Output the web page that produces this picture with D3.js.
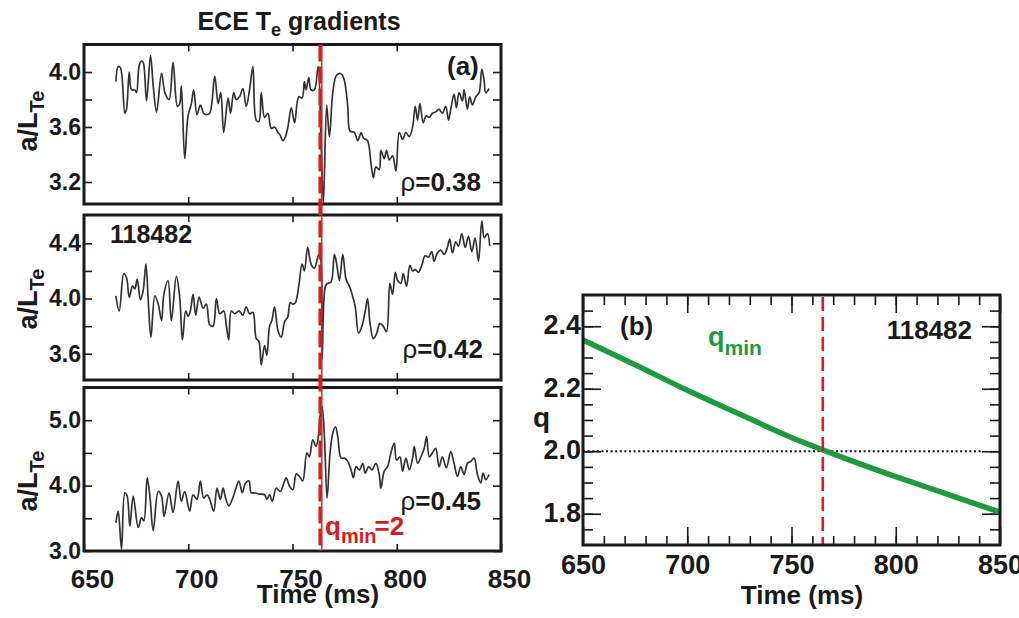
<!DOCTYPE html>
<html>
<head>
<meta charset="utf-8">
<script src="https://cdn.jsdelivr.net/npm/d3@7"></script>
<style>
  body { margin: 0; background: #fff; }
  svg text { font-family: 'Liberation Sans', Arial, sans-serif; font-weight: bold; fill: #1a1a1a; }
  .frame { fill: none; stroke: #1a1a1a; stroke-width: 3; }
  .axis path { display: none; }
  .axis line { stroke: #1a1a1a; stroke-width: 1.6; }
  .trace { fill: none; stroke: #333; stroke-width: 1.7; stroke-linejoin: round; }
</style>
</head>
<body>
<svg id="chart" width="1019" height="618"></svg>
<script>
// ECE a/L_Te traces, [time (ms), a/L_Te]
var rho038 = [[665.3,3.93],[666.4,4.04],[667.5,4.03],[669.6,3.70],[670.4,3.73],[671.7,4.00],[672.8,3.87],[674.4,3.87],[675.2,3.85],[676.5,4.05],[677.6,4.08],[678.4,4.07],[680.0,3.79],[681.9,4.12],[683.2,3.90],[684.8,3.71],[687.2,3.99],[688.8,3.85],[690.8,3.80],[692.7,4.07],[694.8,3.75],[695.9,3.77],[696.7,3.90],[698.3,3.37],[699.9,3.68],[701.5,3.77],[702.6,3.87],[704.2,3.69],[705.8,3.76],[707.4,3.70],[708.7,3.69],[710.3,3.70],[712.7,3.97],[714.3,3.77],[715.6,3.85],[717.0,3.56],[719.1,3.81],[720.3,3.70],[721.8,3.85],[723.0,3.80],[724.6,3.82],[726.2,3.88],[727.8,3.75],[729.4,3.87],[731.0,4.04],[732.6,3.65],[733.9,3.64],[735.0,3.85],[736.6,3.67],[738.2,3.70],[739.8,3.59],[741.4,3.60],[743.0,3.56],[744.1,3.54],[745.4,3.50],[746.6,3.53],[747.8,3.60],[749.4,3.74],[751.0,3.63],[753.0,3.82],[754.6,3.81],[755.7,3.93],[756.5,3.87],[757.8,3.96],[758.9,3.87],[760.5,3.87],[762.3,4.04],[763.7,3.48],[764.8,3.05],[766.4,3.76],[767.7,3.53],[769.3,3.85],[770.9,3.97],[772.5,3.99],[773.8,3.98],[774.9,3.94],[776.5,3.75],[777.6,3.57],[779.7,3.56],[781.3,3.50],[782.9,3.56],[784.0,3.52],[786.0,3.50],[787.6,3.34],[788.8,3.23],[790.0,3.31],[791.6,3.29],[792.4,3.43],[794.0,3.37],[795.1,3.43],[796.4,3.36],[798.0,3.39],[799.6,3.28],[801.2,3.56],[802.8,3.51],[804.4,3.56],[806.0,3.53],[807.6,3.60],[808.9,3.75],[810.0,3.65],[811.1,3.77],[812.7,3.63],[814.0,3.68],[815.6,3.67],[817.1,3.70],[818.7,3.71],[820.3,3.73],[821.9,3.70],[823.5,3.75],[824.8,3.65],[825.9,3.73],[827.5,3.84],[828.6,3.74],[829.9,3.85],[831.5,3.79],[832.3,3.87],[833.9,3.73],[835.0,3.82],[836.3,3.76],[837.9,3.82],[839.5,3.85],[840.8,4.02],[841.9,3.94],[842.7,3.85],[844.3,3.88]];

var rho042 = [[665.3,4.02],[666.9,3.91],[669.1,4.18],[670.4,4.15],[671.7,4.01],[673.3,4.09],[674.4,4.07],[675.5,4.14],[677.1,3.99],[678.4,4.06],[679.7,4.25],[680.8,3.99],[682.1,3.72],[684.0,4.02],[685.6,3.96],[687.2,3.84],[688.3,4.03],[690.3,4.13],[691.9,3.84],[694.3,4.16],[695.9,4.01],[697.2,3.70],[698.8,3.91],[699.9,3.87],[701.0,3.91],[702.3,4.03],[703.6,3.88],[705.2,4.01],[707.1,3.93],[708.7,3.96],[710.3,3.81],[711.9,3.80],[713.5,4.00],[715.1,3.89],[717.0,3.91],[718.3,3.80],[719.4,3.70],[720.7,3.91],[722.3,3.89],[724.3,3.91],[726.2,3.88],[727.8,3.94],[729.4,3.89],[731.0,3.90],[732.6,3.71],[733.9,3.69],[735.0,3.52],[736.6,3.66],[737.7,3.59],[739.0,3.80],[740.1,3.84],[741.4,3.94],[743.0,3.77],[744.6,3.72],[746.2,3.83],[747.8,3.87],[748.9,3.97],[750.2,3.96],[751.4,3.97],[753.0,4.09],[754.6,4.25],[755.7,4.20],[757.3,4.37],[758.9,4.25],[760.5,4.22],[762.6,4.32],[763.4,4.30],[764.2,3.56],[765.8,4.09],[766.9,4.11],[768.5,4.12],[770.1,4.32],[771.2,4.25],[772.5,4.13],[774.1,4.32],[775.7,4.14],[777.3,4.09],[778.6,4.03],[780.1,3.94],[781.7,3.75],[783.3,3.80],[784.9,3.91],[786.0,4.00],[787.2,3.82],[788.8,3.71],[790.4,3.75],[791.9,3.82],[793.5,3.80],[795.1,3.76],[796.7,4.11],[798.0,4.03],[799.3,4.19],[800.4,4.13],[802.0,4.11],[803.1,4.18],[804.7,4.09],[806.3,4.24],[807.6,4.20],[808.9,4.21],[810.4,4.19],[812.0,4.24],[813.6,4.31],[815.2,4.30],[816.8,4.34],[817.9,4.27],[819.5,4.33],[821.1,4.35],[822.7,4.32],[824.3,4.37],[825.4,4.43],[826.7,4.33],[828.3,4.41],[829.6,4.38],[831.2,4.47],[832.8,4.37],[834.4,4.45],[836.0,4.34],[837.6,4.44],[839.2,4.27],[840.8,4.56],[842.0,4.44],[843.5,4.47],[844.6,4.38]];

var rho045 = [[665.3,3.43],[666.4,3.61],[668.0,3.03],[669.6,3.89],[670.7,3.84],[672.0,3.38],[673.6,3.84],[676.0,3.36],[677.6,3.51],[678.7,3.46],[680.3,4.12],[681.6,3.84],[683.2,3.31],[685.6,3.91],[687.2,3.84],[688.4,3.53],[690.8,3.89],[692.7,3.59],[695.1,4.07],[696.7,3.76],[698.3,3.91],[700.7,3.61],[702.3,3.86],[704.2,3.79],[705.8,4.07],[707.4,3.81],[709.0,3.86],[710.3,3.79],[712.2,3.61],[713.8,3.96],[715.4,3.79],[716.7,3.96],[717.9,3.81],[719.5,3.69],[721.1,3.79],[722.7,3.94],[724.3,4.07],[725.9,3.89],[727.5,4.04],[729.1,4.07],[730.2,3.89],[731.8,3.89],[734.2,3.87],[736.6,3.86],[737.7,3.79],[739.0,3.86],[740.3,3.76],[742.2,3.96],[744.1,3.91],[746.2,4.07],[747.0,4.12],[748.6,3.99],[750.2,3.94],[751.8,4.18],[753.3,4.14],[754.9,4.07],[756.9,4.50],[758.1,4.44],[759.7,4.70],[761.3,4.60],[762.6,4.80],[763.2,5.05],[764.2,5.20],[765.3,4.75],[766.6,3.81],[768.0,4.50],[769.3,4.80],[770.6,4.90],[771.7,4.75],[773.3,4.42],[774.9,4.42],[776.5,4.37],[778.1,4.24],[779.2,4.12],[780.5,4.29],[782.1,4.24],[783.7,4.34],[784.9,4.19],[786.5,4.29],[788.1,4.24],[790.0,4.34],[791.6,4.17],[792.4,3.96],[794.0,4.22],[795.6,4.29],[797.2,4.50],[798.8,4.65],[799.9,4.39],[801.5,4.44],[802.8,4.22],[804.4,4.42],[806.0,4.24],[807.6,4.42],[808.4,4.60],[810.0,4.34],[811.6,4.44],[813.2,4.57],[814.3,4.75],[815.6,4.44],[817.1,4.50],[818.7,4.57],[820.3,4.29],[821.9,4.44],[823.8,4.27],[825.9,4.52],[827.5,4.34],[829.1,4.14],[830.7,4.29],[832.3,4.17],[833.9,4.34],[835.5,4.37],[837.1,4.42],[838.7,4.17],[840.3,4.04],[841.4,4.19],[842.7,4.09],[844.3,4.17]];

// q_min evolution
var qTime = [650, 675, 700, 725, 750, 775, 800, 825, 850];
var qMin  = [2.356, 2.277, 2.195, 2.119, 2.044, 1.979, 1.919, 1.862, 1.805];

var tQmin2Left = 763.5;   // q_min = 2 crossing marked on (a)
var tQmin2Right = 765;    // same crossing on (b)

// tick values / labels
var timeTicks = [650, 700, 750, 800, 850];
var innerTimeTicks = [700, 750, 800];
var yTicksA = [3.2, 3.4, 3.6, 3.8, 4.0], yLabelsA = [3.2, 3.6, 4.0];
var yTicksB = [3.6, 3.8, 4.0, 4.2, 4.4], yLabelsB = [3.6, 4.0, 4.4];
var yTicksC = [3.0, 3.5, 4.0, 4.5, 5.0], yLabelsC = [3.0, 4.0, 5.0];
var qLabels = [1.8, 2.0, 2.2, 2.4];

var svg = d3.select('#chart');
var ink = '#1a1a1a', red = '#d51d22', green = '#1f9a3d';

// ---------- panel (a): three stacked traces ----------
var xL = d3.scaleLinear().domain([650, 850]).range([84, 501]);

var panels = [
  { data: rho038, top: 44.5, bottom: 204, domain: [3.04, 4.2], ticks: yTicksA, labels: yLabelsA, labelY: 121 },
  { data: rho042, top: 215, bottom: 380, domain: [3.41, 4.605], ticks: yTicksB, labels: yLabelsB, labelY: 299 },
  { data: rho045, top: 387.5, bottom: 551, domain: [3.0, 5.5], ticks: yTicksC, labels: yLabelsC, labelY: 481 }
];

function fmtIf(list) {
  return function(d) {
    return list.some(function(v) { return Math.abs(v - d) < 1e-6; }) ? d.toFixed(1) : '';
  };
}

panels.forEach(function(p, i) {
  var y = d3.scaleLinear().domain(p.domain).range([p.bottom, p.top]);
  var g = svg.append('g');

  g.append('path')
    .datum(p.data)
    .attr('class', 'trace')
    .attr('d', d3.line().curve(d3.curveCatmullRom.alpha(0.5))
      .x(function(d) { return xL(d[0]); }).y(function(d) { return y(d[1]); }));

  // left / right ticks (inward)
  g.append('g').attr('class', 'axis')
    .attr('transform', 'translate(' + xL(650) + ',0)')
    .call(d3.axisLeft(y).tickValues(p.ticks).tickSize(-8).tickPadding(3).tickFormat(fmtIf(p.labels)))
    .selectAll('text').style('font-size', '23px').style('fill', ink);
  g.append('g').attr('class', 'axis')
    .attr('transform', 'translate(' + xL(850) + ',0)')
    .call(d3.axisRight(y).tickValues(p.ticks).tickSize(-8).tickFormat(''));

  // top / bottom ticks
  g.append('g').attr('class', 'axis')
    .attr('transform', 'translate(0,' + p.top + ')')
    .call(d3.axisTop(xL).tickValues(innerTimeTicks).tickSize(-7).tickFormat(''));
  var last = i === panels.length - 1;
  var bx = g.append('g').attr('class', 'axis')
    .attr('transform', 'translate(0,' + p.bottom + ')')
    .call(d3.axisBottom(xL).tickValues(last ? timeTicks : innerTimeTicks).tickSize(-7)
      .tickPadding(19).tickFormat(last ? d3.format('d') : ''));
  bx.selectAll('text').style('font-size', '26px').style('fill', ink).attr('dx', 8);

  g.append('rect').attr('class', 'frame')
    .attr('x', xL(650)).attr('y', p.top)
    .attr('width', xL(850) - xL(650)).attr('height', p.bottom - p.top);

  // y label a/L_Te
  var lab = g.append('text')
    .attr('transform', 'translate(37,' + p.labelY + ') rotate(-90)')
    .attr('text-anchor', 'middle')
    .style('font-size', '27px');
  lab.append('tspan').text('a/L');
  lab.append('tspan').attr('dy', 7).style('font-size', '20px').text('Te');
});

// red dashed marker through all three traces
var xm = xL(tQmin2Left);
svg.append('line')
  .attr('x1', xm + 1.2).attr('x2', xm + 1.2).attr('y1', 44.5).attr('y2', 551)
  .attr('stroke', red).attr('stroke-width', 1.4);
svg.append('line')
  .attr('x1', xm - 0.6).attr('x2', xm - 0.6).attr('y1', 44.5).attr('y2', 551)
  .attr('stroke', red).attr('stroke-width', 3.2).attr('stroke-dasharray', '17,5');

// panel (a) annotations
var title = svg.append('text').attr('x', 299).attr('y', 30).attr('text-anchor', 'middle').style('font-size', '25px');
title.append('tspan').text('ECE T');
title.append('tspan').attr('dy', 6).style('font-size', '18px').text('e');
title.append('tspan').attr('dy', -6).text(' gradients');

svg.append('text').attr('x', 447).attr('y', 75).style('font-size', '26px').text('(a)');
svg.append('text').attr('x', 110).attr('y', 243).style('font-size', '25px').text('118482');

function rhoLabel(x, y, s) {
  var t = svg.append('text').attr('x', x).attr('y', y).attr('text-anchor', 'end').style('font-size', '26px');
  t.append('tspan').style('font-weight', 'normal').text('\u03c1');
  t.append('tspan').text('=' + s);
}
rhoLabel(481, 191, '0.38');
rhoLabel(483, 358, '0.42');
rhoLabel(481, 510, '0.45');

var qm = svg.append('text').attr('x', 325).attr('y', 535).style('font-size', '26px').style('fill', red);
qm.append('tspan').text('q');
qm.append('tspan').attr('dy', 8).style('font-size', '20px').text('min');
qm.append('tspan').attr('dy', -8).attr('dx', -2).text('=2');

svg.append('text').attr('x', 318).attr('y', 603).attr('text-anchor', 'middle').style('font-size', '26px').text('Time (ms)');

// ---------- panel (b): q_min ----------
var xR = d3.scaleLinear().domain([650, 850]).range([583, 1000]);
var yR = d3.scaleLinear().domain([1.7, 2.5]).range([545, 295]);
var gR = svg.append('g');

gR.append('g').attr('class', 'axis').attr('transform', 'translate(583,0)')
  .call(d3.axisLeft(yR).tickValues(d3.range(1.75, 2.49, 0.05)).tickSize(-10).tickFormat(''));
gR.append('g').attr('class', 'axis').attr('transform', 'translate(583,0)')
  .call(d3.axisLeft(yR).tickValues(qLabels).tickSize(-18).tickPadding(2).tickFormat(d3.format('.1f')))
  .selectAll('text').style('font-size', '27px').style('fill', ink).attr('dy', '0.28em');
gR.append('g').attr('class', 'axis').attr('transform', 'translate(1000,0)')
  .call(d3.axisRight(yR).tickValues(d3.range(1.75, 2.49, 0.05)).tickSize(-10).tickFormat(''));
gR.append('g').attr('class', 'axis').attr('transform', 'translate(1000,0)')
  .call(d3.axisRight(yR).tickValues(qLabels).tickSize(-18).tickFormat(''));

gR.append('g').attr('class', 'axis').attr('transform', 'translate(0,545)')
  .call(d3.axisBottom(xR).tickValues(d3.range(660, 850, 10)).tickSize(-9).tickFormat(''));
gR.append('g').attr('class', 'axis').attr('transform', 'translate(0,545)')
  .call(d3.axisBottom(xR).tickValues(timeTicks).tickSize(-18).tickPadding(10).tickFormat(d3.format('d')))
  .selectAll('text').style('font-size', '27px').style('fill', ink);
gR.append('g').attr('class', 'axis').attr('transform', 'translate(0,295)')
  .call(d3.axisTop(xR).tickValues(d3.range(660, 850, 10)).tickSize(-10).tickFormat(''));
gR.append('g').attr('class', 'axis').attr('transform', 'translate(0,295)')
  .call(d3.axisTop(xR).tickValues(timeTicks).tickSize(-18).tickFormat(''));

// q = 2 reference
gR.append('line')
  .attr('x1', xR(650)).attr('x2', xR(841)).attr('y1', yR(2.0)).attr('y2', yR(2.0))
  .attr('stroke', '#111').attr('stroke-width', 2).attr('stroke-dasharray', '2,2.6');

gR.append('path')
  .datum(qTime.map(function(t, i) { return [t, qMin[i]]; }))
  .attr('fill', 'none').attr('stroke', green).attr('stroke-width', 5.5)
  .attr('d', d3.line().curve(d3.curveMonotoneX).x(function(d) { return xR(d[0]); }).y(function(d) { return yR(d[1]); }));

gR.append('line')
  .attr('x1', xR(tQmin2Right)).attr('x2', xR(tQmin2Right)).attr('y1', 297).attr('y2', 545)
  .attr('stroke', red).attr('stroke-width', 2.6).attr('stroke-dasharray', '14,6');

gR.append('rect').attr('class', 'frame').attr('x', 583).attr('y', 295).attr('width', 417).attr('height', 250);

gR.append('text').attr('x', 620).attr('y', 335).style('font-size', '26px').text('(b)');
gR.append('text').attr('x', 972).attr('y', 339).attr('text-anchor', 'end').style('font-size', '26px').text('118482');
var qg = gR.append('text').attr('x', 708).attr('y', 346).style('font-size', '27px').style('fill', green);
qg.append('tspan').text('q');
qg.append('tspan').attr('dy', 9).style('font-size', '21px').text('min');

gR.append('text').attr('x', 533).attr('y', 427).style('font-size', '28px').text('q');
gR.append('text').attr('x', 802).attr('y', 604).attr('text-anchor', 'middle').style('font-size', '26px').text('Time (ms)');
</script>
</body>
</html>
